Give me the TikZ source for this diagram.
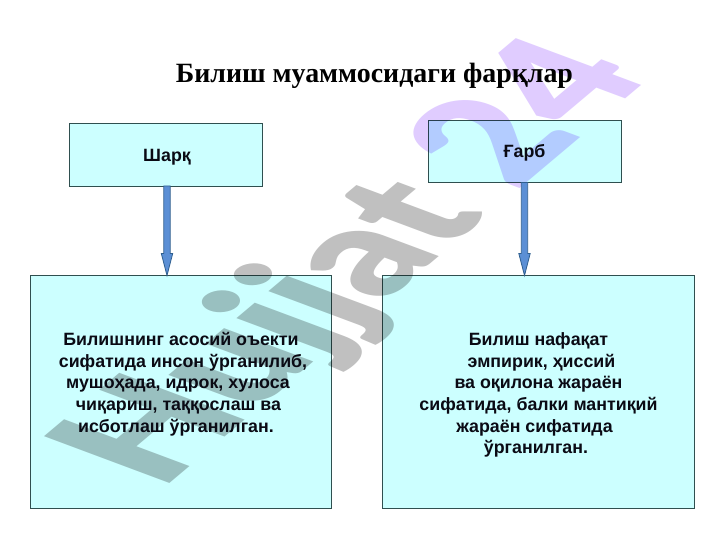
\documentclass[tikz,border=0pt]{standalone}
\usepackage{fontspec}
\setmainfont{Liberation Sans}
\newfontfamily\serifbold{Liberation Serif}
\newfontfamily\wmfont{Lato Black}
\usetikzlibrary{calc}
\definecolor{boxfill}{HTML}{CCFFFF}
\definecolor{boxline}{HTML}{2F4F4F}
\definecolor{arrfill}{HTML}{5B8FD5}
\definecolor{arrline}{HTML}{2F5F8F}
\definecolor{wmgray}{HTML}{C0C0C0}
\definecolor{wmpurple}{HTML}{E0CCFF}
\definecolor{inktext}{HTML}{0A0A14}
\newcommand{\padr}[1]{\rule{#1}{0pt}}
\tikzset{
  pane/.style={draw=boxline,line width=0.8bp,fill=boxfill,anchor=north west,inner sep=0pt,outer sep=0pt},
  head/.style={font=\fontsize{17.8bp}{20bp}\selectfont\bfseries,text=inktext},
  body/.style={font=\fontsize{17.8bp}{21.7bp}\selectfont\bfseries,text=inktext,align=center,inner sep=0pt},
  blockarrow/.style={draw=arrline,line width=0.8bp,fill=arrfill,line join=miter},
  wm/.style={font=\fontsize{178bp}{178bp}\selectfont\wmfont,inner sep=0pt,anchor=base west,blend mode=multiply},
}
\begin{document}
\begin{tikzpicture}[x=1bp,y=-1bp]
\useasboundingbox (0,0) rectangle (720,540);
\fill[white] (0,0) rectangle (720,540);
\node[pane,minimum width=193bp,minimum height=62.5bp] (east) at (69,123.5) {};
\node[pane,minimum width=193bp,minimum height=62bp] (west) at (428,120.5) {};
\node[pane,minimum width=301bp,minimum height=233bp] (leftbox) at (30.5,275.5) {};
\node[pane,minimum width=312bp,minimum height=233bp] (rightbox) at (382.5,275.5) {};
\begin{scope}[cm={0.665,0.56,-0.967,0.361,(161.4,490.5)}]
\node[wm,text=wmgray,transform shape] (wmone) at (0,0) {Hujjat\textcolor{wmpurple}{\ 24}};
\end{scope}
\node[head] (easttext) at (167,157) {Шарқ};
\node[head] (westtext) at (524.5,152.5) {Ғарб};
\node[font=\fontsize{27.9bp}{30bp}\selectfont\serifbold\bfseries,text=black,inner sep=0pt] (title) at (374.5,76) {Билиш муаммосидаги фарқлар};
\node[body] (lefttext) at (183,384) {Билишнинг асосий оъекти\padr{4bp}\\сифатида инсон ўрганилиб,\\мушоҳада, идрок, хулоса\padr{10bp}\\чиқариш, таққослаш ва\padr{9bp}\\исботлаш ўрганилган.\padr{14bp}};
\node[body] (righttext) at (538.5,395) {Билиш нафақат\\\padr{6bp}эмпирик, ҳиссий\\ва оқилона жараён\\сифатида, балки мантиқий\\жараён сифатида\padr{8bp}\\ўрганилган.\padr{5bp}};
\draw[blockarrow] let \p1=(east.south),\p2=(leftbox.north) in
  (\x1+1.5bp-3.2bp,\y1) -- (\x1+1.5bp-3.2bp,\y2+22bp) -- (\x1+1.5bp-5.7bp,\y2+22bp) -- (\x1+1.5bp,\y2) -- (\x1+1.5bp+5.7bp,\y2+22bp) -- (\x1+1.5bp+3.2bp,\y2+22bp) -- (\x1+1.5bp+3.2bp,\y1) -- cycle;
\draw[blockarrow] let \p1=(west.south),\p2=(rightbox.north) in
  (\x1-3.2bp,\y1) -- (\x1-3.2bp,\y2+22bp) -- (\x1-5.7bp,\y2+22bp) -- (\x1,\y2) -- (\x1+5.7bp,\y2+22bp) -- (\x1+3.2bp,\y2+22bp) -- (\x1+3.2bp,\y1) -- cycle;
\end{tikzpicture}
\end{document}
